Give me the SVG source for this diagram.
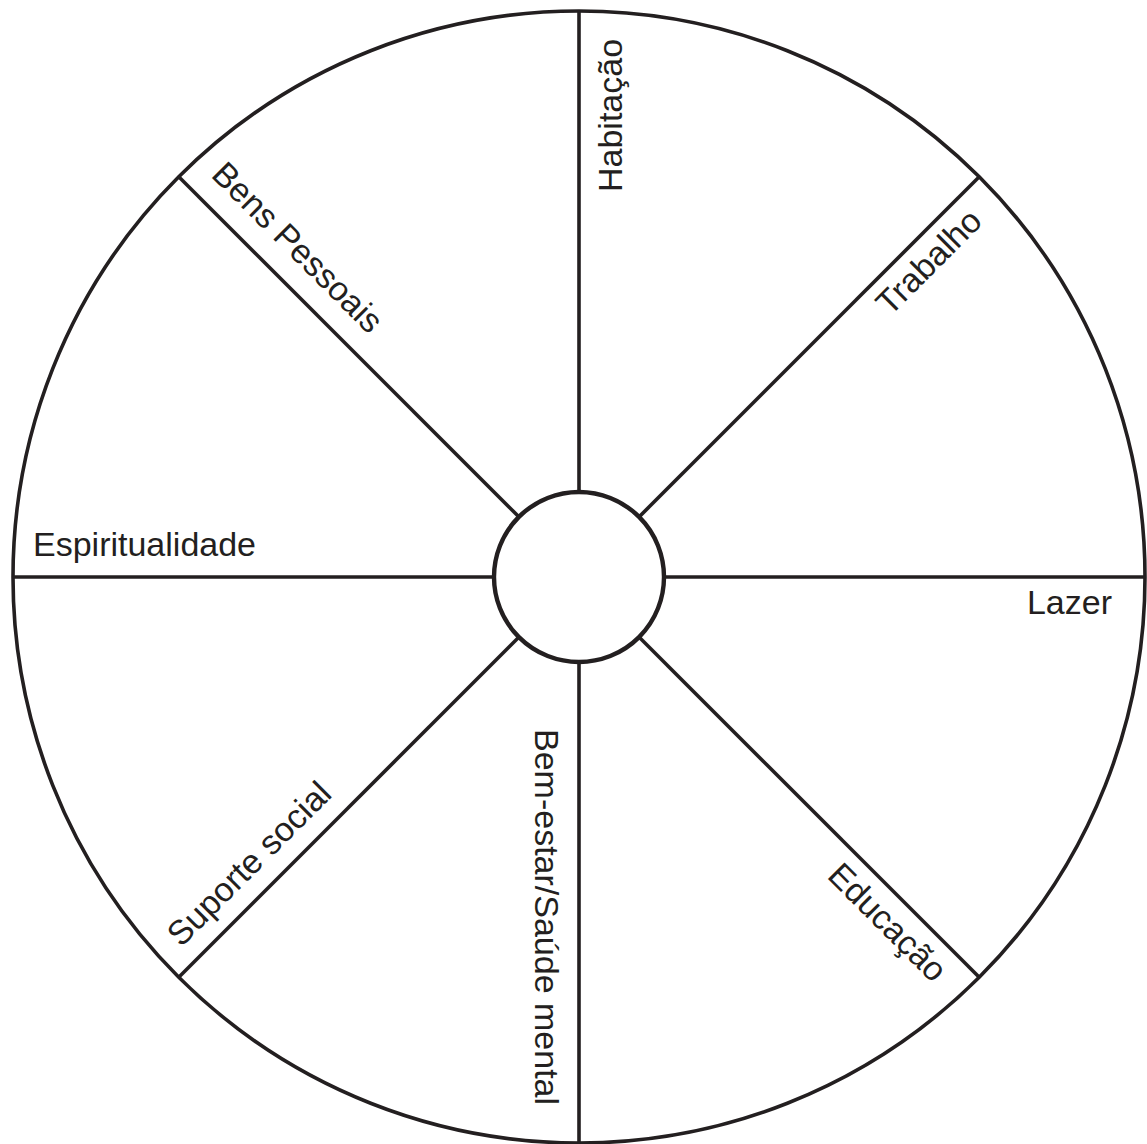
<svg xmlns="http://www.w3.org/2000/svg" width="1147" height="1144" viewBox="0 0 1147 1144">
  <style>
    .ln { stroke: #231f20; stroke-width: 3.6; fill: none; }
    .lbl { font-family: "Liberation Sans", Arial, sans-serif; font-size: 34px; fill: #231f20; }
  </style>
  <rect x="0" y="0" width="1147" height="1144" fill="#ffffff"/>
  <g id="outer-circle">
    <circle cx="579" cy="577" r="566" class="ln" stroke-width="4"/>
  </g>
  <g id="connectors">
    <line x1="579" y1="10" x2="579" y2="1144" class="ln"/>
    <line x1="12" y1="577" x2="1146" y2="577" class="ln"/>
    <line x1="179" y1="177" x2="979" y2="977" class="ln"/>
    <line x1="979" y1="177" x2="179" y2="977" class="ln"/>
  </g>
  <g id="hub">
    <circle cx="579" cy="577" r="85" fill="#ffffff" stroke="#231f20" stroke-width="4.4"/>
  </g>
  <g id="habitacao">
    <text class="lbl" transform="translate(622,192) rotate(-90)">Habitação</text>
  </g>
  <g id="trabalho">
    <text class="lbl" transform="translate(890,317) rotate(-45)">Trabalho</text>
  </g>
  <g id="lazer">
    <text class="lbl" x="1112" y="614" text-anchor="end">Lazer</text>
  </g>
  <g id="educacao">
    <text class="lbl" transform="translate(826,877) rotate(45)">Educação</text>
  </g>
  <g id="bem-estar">
    <text class="lbl" transform="translate(535,729) rotate(90)">Bem-estar/Saúde mental</text>
  </g>
  <g id="suporte-social">
    <text class="lbl" transform="translate(181,948) rotate(-45)">Suporte social</text>
  </g>
  <g id="espiritualidade">
    <text class="lbl" x="33" y="556">Espiritualidade</text>
  </g>
  <g id="bens-pessoais">
    <text class="lbl" transform="translate(210,176) rotate(45)">Bens Pessoais</text>
  </g>
</svg>
